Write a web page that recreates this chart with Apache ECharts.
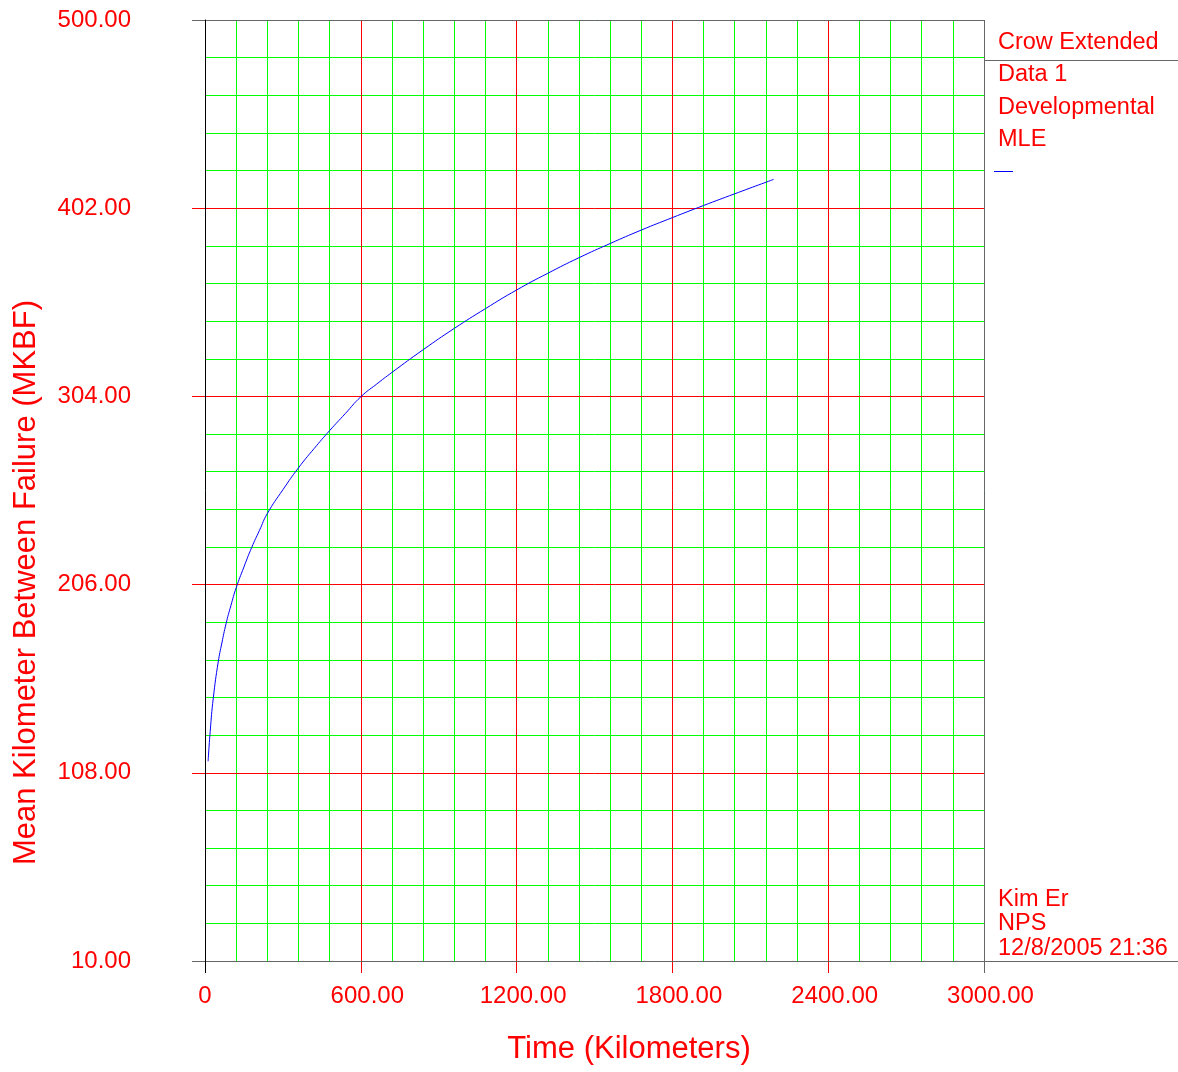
<!DOCTYPE html>
<html>
<head>
<meta charset="utf-8">
<script src="https://cdn.jsdelivr.net/npm/echarts@6/dist/echarts.min.js"></script>
<style>
  html, body { margin: 0; padding: 0; background: #ffffff; }
  #chart { width: 1178px; height: 1072px; }
</style>
</head>
<body>
<div id="chart"></div>
<script>
// Reliability growth (Crow Extended, MLE): cumulative kilometers vs. MKBF
const timeKm = [12, 20, 32, 51, 65, 81, 100, 120, 150, 180, 210, 240, 300, 360, 420, 480, 540, 600, 660, 720, 840, 960, 1080, 1200, 1320, 1440, 1560, 1680, 1800, 1920, 2040, 2190];
const mkbf   = [114, 129.5, 147, 165.8, 175.6, 185.6, 195.2, 204.3, 215.2, 225.4, 234.3, 243, 255.4, 266.8, 276.8, 286.2, 295, 303.8, 310.3, 316.5, 328.3, 339.4, 349.7, 359.4, 368.1, 376.2, 383.6, 390.6, 397.1, 403.4, 409.5, 417];

// Axis scales and tick spacing
const xRange = [0, 3000];
const xMajor = 600;
const xMinor = 120;
const yRange = [10, 500];
const yMajor = 98;
const yMinor = 19.6;

// Side panel text
const legendLines = ['Crow Extended', 'Data 1', 'Developmental', 'MLE'];
const footerLines = ['Kim Er', 'NPS', '12/8/2005 21:36'];

const FONT = "'Liberation Sans', Arial, Helvetica, sans-serif";
const RED = '#ff0000';
const GREEN = '#00ff00';
const GRAY = '#666666';

const chart = echarts.init(document.getElementById('chart'), null, { renderer: 'canvas' });

const xMajorTicks = [];
for (let v = xRange[0] + xMajor; v < xRange[1]; v += xMajor) xMajorTicks.push(v);
const yMajorTicks = [];
for (let v = yRange[0] + yMajor; v < yRange[1] - 1e-6; v += yMajor) yMajorTicks.push(+v.toFixed(2));

// a grid-only axis: split lines in one colour, nothing else drawn
function gridAxis(range, interval, color, z, extra) {
  return Object.assign({
    type: 'value', min: range[0], max: range[1], interval: interval, z: z,
    axisLine: { show: false },
    axisTick: { show: false },
    axisLabel: { show: false },
    splitLine: { show: true, showMinLine: true, showMaxLine: true, lineStyle: { width: 1, color: color } }
  }, extra || {});
}

const option = {
  backgroundColor: '#ffffff',
  animation: false,
  grid: { left: 205, right: 194, top: 20, bottom: 111, containLabel: false },
  xAxis: [
    gridAxis(xRange, xMinor, GREEN, 1, { position: 'bottom' }),
    { // major red grid, labels and title
      type: 'value', position: 'bottom', min: xRange[0], max: xRange[1], interval: xMajor, z: 2,
      name: 'Time (Kilometers)', nameLocation: 'middle', nameGap: 73,
      nameTextStyle: { color: RED, fontSize: 31, fontFamily: FONT, padding: [0, 0, 0, 69] },
      axisLine: { show: false },
      axisTick: { show: true, length: 12, customValues: xMajorTicks, lineStyle: { color: RED, width: 1 } },
      axisLabel: {
        show: true, margin: 23, color: RED, fontSize: 24, fontFamily: FONT,
        formatter: v => (v === 0 ? '{z|0}' : '{n|' + v.toFixed(2) + '}'),
        rich: {
          z: { color: RED, fontSize: 24, fontFamily: FONT },
          n: { color: RED, fontSize: 24, fontFamily: FONT, padding: [0, 0, 0, 13] }
        }
      },
      splitLine: { show: true, showMinLine: true, showMaxLine: true, lineStyle: { width: 1, color: RED } }
    },
    // plot frame at both ends of the time axis
    gridAxis(xRange, xRange[1] - xRange[0], GRAY, 3, {
      position: 'bottom',
      axisTick: { show: true, length: 12, customValues: [xRange[1]], lineStyle: { color: GRAY, width: 1 } }
    }),
    gridAxis(xRange, xRange[1] - xRange[0], '#000000', 4, {
      position: 'bottom',
      splitLine: { show: false },
      axisTick: { show: true, length: 12, customValues: [xRange[0]], lineStyle: { color: '#000000', width: 1 } }
    })
  ],
  yAxis: [
    gridAxis(yRange, yMinor, GREEN, 1, { position: 'left' }),
    { // major red grid, labels and title
      type: 'value', position: 'left', min: yRange[0], max: yRange[1], interval: yMajor, z: 2,
      name: 'Mean Kilometer Between Failure (MKBF)', nameLocation: 'middle', nameGap: 163, nameRotate: 90,
      nameTextStyle: { color: RED, fontSize: 31, fontFamily: FONT, padding: [0, 184, 0, 0] },
      axisLine: { show: false },
      axisTick: { show: true, length: 13, customValues: yMajorTicks, lineStyle: { color: RED, width: 1 } },
      axisLabel: {
        show: true, margin: 74, color: RED, fontSize: 24, fontFamily: FONT,
        formatter: v => v.toFixed(2)
      },
      splitLine: { show: true, showMinLine: true, showMaxLine: true, lineStyle: { width: 1, color: RED } }
    },
    // plot frame at top and bottom, black value axis line on the left
    gridAxis(yRange, yRange[1] - yRange[0], GRAY, 3, {
      position: 'left',
      axisLine: { show: true, lineStyle: { color: '#000000', width: 1 } },
      axisTick: { show: true, length: 13, customValues: [yRange[0], yRange[1]], lineStyle: { color: GRAY, width: 1 } }
    })
  ],
  series: [
    {
      name: 'MLE',
      type: 'line',
      xAxisIndex: 1,
      yAxisIndex: 1,
      data: timeKm.map((t, i) => [t, mkbf[i]]),
      smooth: 0.5,
      showSymbol: false,
      symbol: 'none',
      lineStyle: { color: '#0000ff', width: 1 },
      z: 5
    }
  ]
};

chart.setOption(option);

// Side panel: framed to the right of the plot, placed from the axis scales
const plotRight = chart.convertToPixel({ xAxisIndex: 1 }, xRange[1]);
const plotBottom = chart.convertToPixel({ yAxisIndex: 1 }, yRange[0]);
const panelLeft = Math.round(plotRight) + 14;
const pageW = 1178;

const textStyle = { fill: RED, fontSize: 23.5, fontFamily: FONT, verticalAlign: 'middle', align: 'left' };
const legendY = [42.5, 75, 107.5, 140];
const footerY = [899.5, 924, 948.5];

const graphics = [
  { type: 'line', silent: true, z: 10, shape: { x1: Math.round(plotRight), y1: 60.5, x2: pageW, y2: 60.5 }, style: { stroke: GRAY, lineWidth: 1 } },
  { type: 'line', silent: true, z: 10, shape: { x1: Math.round(plotRight), y1: Math.round(plotBottom) + 0.5, x2: pageW, y2: Math.round(plotBottom) + 0.5 }, style: { stroke: GRAY, lineWidth: 1 } },
  { type: 'line', silent: true, z: 10, shape: { x1: panelLeft - 4, y1: 171.5, x2: panelLeft + 15, y2: 171.5 }, style: { stroke: '#0000ff', lineWidth: 1 } }
];
legendLines.forEach((t, i) => graphics.push({ type: 'text', silent: true, z: 10, x: panelLeft, y: legendY[i], style: Object.assign({ text: t }, textStyle) }));
footerLines.forEach((t, i) => graphics.push({ type: 'text', silent: true, z: 10, x: panelLeft, y: footerY[i], style: Object.assign({ text: t }, textStyle) }));

chart.setOption({ graphic: graphics });
</script>
</body>
</html>
